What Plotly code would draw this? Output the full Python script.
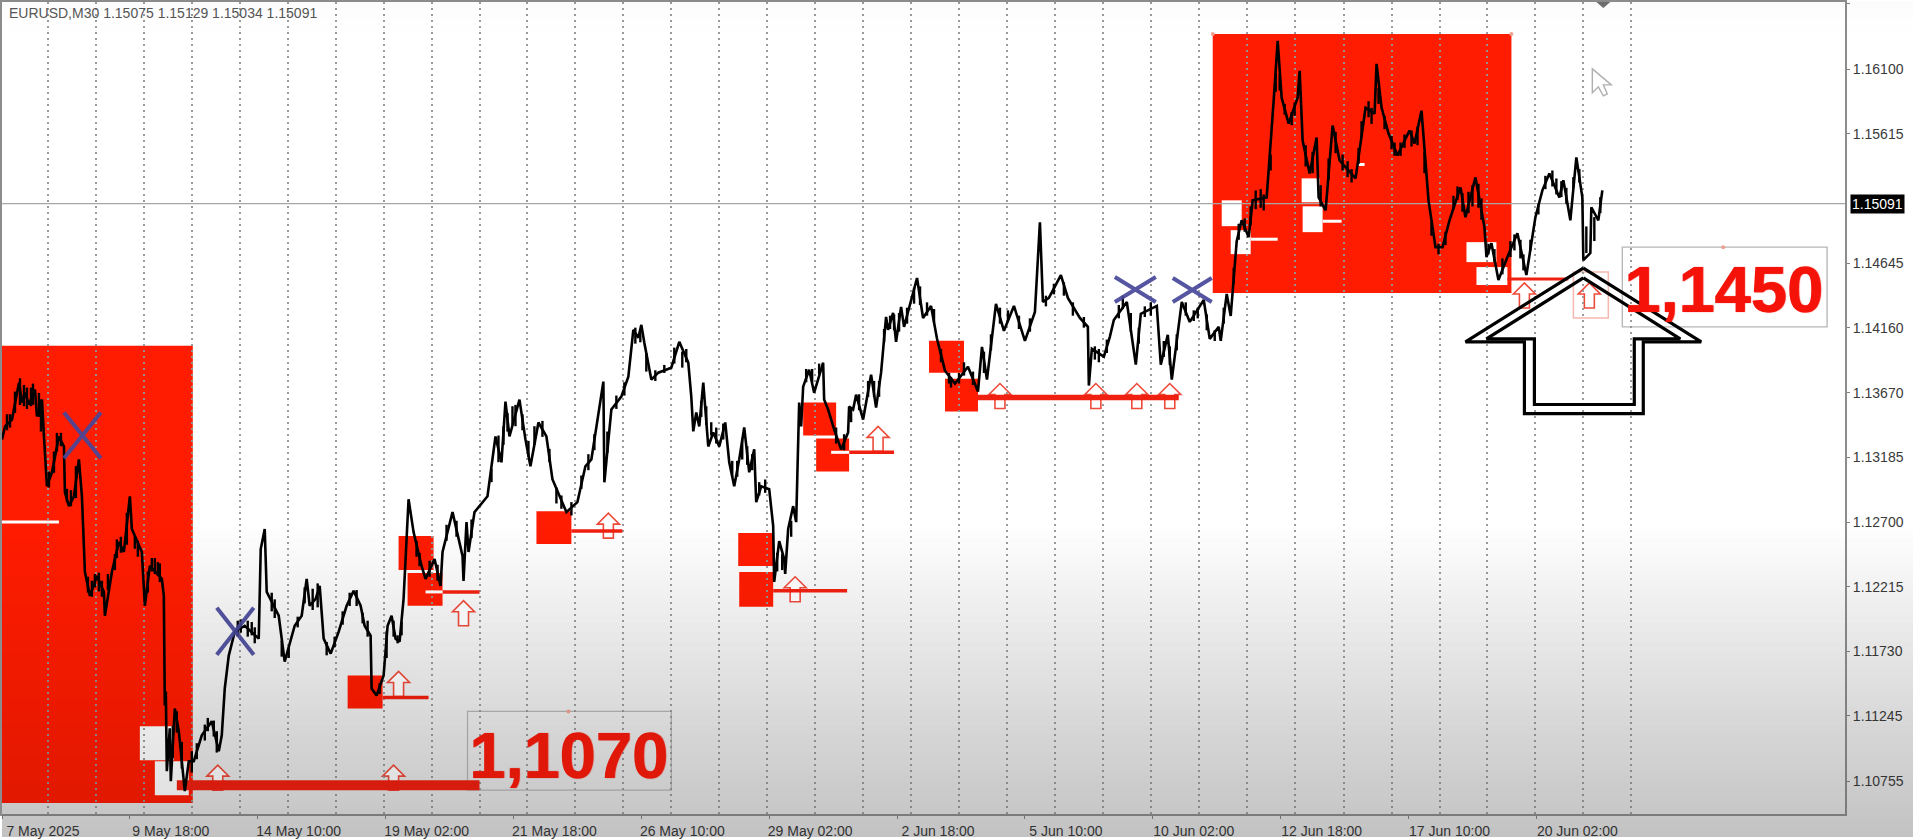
import plotly.graph_objects as go

# ---------- data ----------
price_bars = [0,3,10,17,20,23,27,33,35,40,42,45,50,57,62,63,67,72,77,80,83,88,95,102,103,110,117,122,128,130,140,143,148,160,162,163,164,165,168,169,173,177,183,187,192,200,210,217,220,223,227,233,243,257,259,263,265,277,283,293,300,305,308,314,318,322,329,337,345,352,359,363,369,370,375,382,386,390,394,398,402,407,412,420,424,433,439,441,451,461,462,465,467,473,486,494,500,504,508,518,524,529,537,545,551,565,576,584,590,596,602,603,610,620,627,632,637,640,643,650,657,670,678,687,690,692,695,698,702,707,712,718,724,728,733,738,743,748,753,755,760,768,772,773,778,783,784,787,792,795,798,800,802,808,813,822,823,827,833,840,847,848,852,855,862,870,875,880,885,887,892,895,900,903,910,916,922,930,936,944,954,967,977,981,986,995,1003,1013,1024,1034,1039,1042,1048,1060,1067,1079,1087,1088,1091,1103,1109,1113,1126,1135,1140,1156,1160,1167,1171,1181,1189,1203,1209,1218,1220,1226,1230,1236,1241,1248,1252,1266,1273,1277,1281,1288,1297,1299,1302,1309,1316,1318,1325,1332,1339,1355,1365,1374,1376,1381,1388,1397,1409,1414,1421,1428,1435,1442,1449,1460,1465,1475,1484,1486,1491,1498,1507,1517,1526,1535,1542,1549,1559,1563,1570,1576,1582,1583,1590,1591,1598,1602]
price_values = [1.13321,1.13418,1.13470,1.13747,1.13598,1.13672,1.13583,1.13695,1.13493,1.13620,1.13343,1.12969,1.13074,1.13343,1.13268,1.12924,1.12820,1.12894,1.13171,1.12894,1.12326,1.12146,1.12296,1.12176,1.11997,1.12326,1.12550,1.12476,1.12894,1.12648,1.12476,1.12072,1.12371,1.12274,1.12146,1.11324,1.11428,1.10830,1.11152,1.10755,1.11301,1.11129,1.10680,1.10905,1.10905,1.11099,1.11204,1.10980,1.11099,1.11451,1.11698,1.11877,1.11922,1.11825,1.12498,1.12648,1.12176,1.11997,1.11653,1.11922,1.11997,1.12274,1.12072,1.12124,1.12221,1.11825,1.11713,1.11877,1.12072,1.12184,1.12072,1.11922,1.11847,1.11451,1.11398,1.11548,1.11922,1.11997,1.11825,1.11802,1.12124,1.12872,1.12625,1.12371,1.12274,1.12423,1.12221,1.12476,1.12775,1.12446,1.12259,1.12700,1.12476,1.12775,1.12894,1.13343,1.13149,1.13605,1.13343,1.13620,1.13321,1.13119,1.13448,1.13343,1.13022,1.12775,1.12850,1.13119,1.13171,1.13448,1.13755,1.12999,1.13545,1.13642,1.13792,1.14144,1.14084,1.14181,1.14046,1.13770,1.13822,1.13859,1.14054,1.13897,1.13642,1.13381,1.13523,1.13418,1.13747,1.13268,1.13373,1.13268,1.13448,1.13149,1.12969,1.13171,1.13411,1.13074,1.13246,1.12850,1.12969,1.12947,1.12670,1.12251,1.12558,1.12423,1.12311,1.12648,1.12820,1.12700,1.13598,1.13418,1.13717,1.13844,1.13672,1.13897,1.13620,1.13545,1.13396,1.13246,1.13373,1.13568,1.13545,1.13657,1.13470,1.13807,1.13560,1.13822,1.14241,1.14144,1.14271,1.14054,1.14316,1.14166,1.14368,1.14533,1.14233,1.14323,1.14076,1.13837,1.13740,1.13867,1.13680,1.14016,1.13770,1.14338,1.14136,1.14323,1.14061,1.14278,1.14951,1.14353,1.14383,1.14555,1.14383,1.14233,1.14166,1.13725,1.14001,1.13942,1.14091,1.14218,1.14353,1.13882,1.14263,1.14323,1.13882,1.14106,1.13770,1.14353,1.14203,1.14368,1.14076,1.14166,1.14061,1.14413,1.14248,1.14809,1.14966,1.14839,1.15116,1.15138,1.15864,1.16313,1.15886,1.15692,1.15886,1.16088,1.15565,1.15318,1.15587,1.15138,1.15041,1.15677,1.15415,1.15281,1.15812,1.15767,1.16141,1.15812,1.15617,1.15453,1.15640,1.15542,1.15789,1.15116,1.14764,1.14764,1.14966,1.15213,1.14989,1.15288,1.14914,1.14690,1.14794,1.14518,1.14690,1.14869,1.14555,1.14989,1.15191,1.15318,1.15138,1.15266,1.14966,1.15438,1.15138,1.14667,1.14720,1.15064,1.14966,1.15191]

wick_bars = [5,8,13,18,22,25,29,31,37,39,47,52,55,59,65,69,74,86,90,93,97,100,106,113,115,119,125,133,136,146,150,153,156,158,171,175,180,190,195,203,206,212,215,236,239,246,250,253,270,273,280,287,296,303,311,316,325,333,341,348,355,361,366,378,385,392,396,400,415,418,428,436,445,455,470,490,497,502,506,511,514,521,527,533,541,548,555,560,570,580,587,593,606,615,623,634,639,645,654,663,673,681,685,700,705,710,715,722,731,736,741,746,751,758,764,776,781,790,805,811,818,835,843,850,858,867,873,878,883,889,893,898,906,913,919,926,933,940,948,950,958,963,972,983,990,999,1007,1018,1029,1045,1053,1063,1072,1083,1094,1098,1106,1118,1122,1130,1138,1144,1150,1163,1169,1176,1185,1193,1197,1206,1214,1223,1233,1238,1244,1250,1255,1260,1263,1270,1275,1279,1284,1291,1294,1305,1312,1320,1328,1335,1342,1347,1351,1358,1361,1368,1371,1378,1384,1391,1394,1400,1404,1411,1417,1424,1431,1438,1445,1453,1457,1462,1468,1472,1478,1481,1488,1494,1502,1510,1514,1520,1523,1530,1538,1545,1552,1556,1561,1566,1573,1579,1586,1594,1600]
wick_mids = [1.1345,1.1346,1.1360,1.1368,1.1365,1.1363,1.1364,1.1366,1.1358,1.1350,1.1302,1.1315,1.1330,1.1332,1.1290,1.1288,1.1300,1.1223,1.1220,1.1226,1.1225,1.1220,1.1225,1.1240,1.1250,1.1253,1.1265,1.1255,1.1250,1.1225,1.1238,1.1237,1.1235,1.1232,1.1105,1.1120,1.1095,1.1090,1.1098,1.1112,1.1118,1.1115,1.1105,1.1190,1.1192,1.1190,1.1190,1.1185,1.1210,1.1205,1.1175,1.1172,1.1195,1.1215,1.1212,1.1215,1.1175,1.1180,1.1198,1.1212,1.1213,1.1198,1.1190,1.1145,1.1178,1.1190,1.1182,1.1190,1.1250,1.1242,1.1235,1.1232,1.1262,1.1265,1.1265,1.1305,1.1325,1.1335,1.1345,1.1350,1.1350,1.1345,1.1325,1.1335,1.1340,1.1320,1.1290,1.1285,1.1280,1.1300,1.1315,1.1330,1.1330,1.1360,1.1370,1.1410,1.1410,1.1390,1.1380,1.1385,1.1395,1.1392,1.1395,1.1355,1.1350,1.1340,1.1335,1.1338,1.1310,1.1310,1.1325,1.1320,1.1315,1.1295,1.1297,1.1240,1.1240,1.1265,1.1380,1.1380,1.1385,1.1335,1.1330,1.1350,1.1360,1.1370,1.1370,1.1370,1.1410,1.1420,1.1420,1.1420,1.1425,1.1440,1.1440,1.1430,1.1425,1.1395,1.1378,1.1375,1.1378,1.1385,1.1378,1.1390,1.1405,1.1425,1.1425,1.1420,1.1418,1.1436,1.1445,1.1445,1.1430,1.1420,1.1397,1.1395,1.1402,1.1428,1.1435,1.1420,1.1410,1.1428,1.1430,1.1400,1.1395,1.1405,1.1430,1.1425,1.1427,1.1420,1.1410,1.1425,1.1455,1.1488,1.1493,1.1500,1.1512,1.1513,1.1510,1.1540,1.1600,1.1600,1.1580,1.1573,1.1580,1.1545,1.1540,1.1515,1.1535,1.1555,1.1540,1.1535,1.1530,1.1545,1.1565,1.1580,1.1575,1.1590,1.1570,1.1555,1.1550,1.1550,1.1556,1.1558,1.1560,1.1540,1.1490,1.1475,1.1483,1.1510,1.1517,1.1510,1.1510,1.1515,1.1515,1.1505,1.1475,1.1470,1.1462,1.1475,1.1480,1.1475,1.1465,1.1478,1.1505,1.1525,1.1528,1.1522,1.1520,1.1515,1.1525,1.1530,1.1482,1.1490,1.1508]
wick_half_spans = [.0006,.0005,.0008,.0010,.0008,.0008,.0007,.0008,.0009,.0012,.0006,.0008,.0007,.0005,.0005,.0006,.0012,.0006,.0006,.0005,.0007,.0006,.0006,.0006,.0007,.0006,.0012,.0005,.0006,.0008,.0005,.0006,.0005,.0007,.0012,.0008,.0010,.0008,.0006,.0006,.0005,.0006,.0008,.0006,.0005,.0006,.0005,.0006,.0007,.0007,.0006,.0004,.0004,.0006,.0008,.0009,.0005,.0004,.0005,.0005,.0006,.0004,.0006,.0004,.0010,.0006,.0003,.0005,.0006,.0005,.0006,.0006,.0006,.0006,.0007,.0005,.0010,.0007,.0007,.0007,.0008,.0006,.0006,.0007,.0006,.0005,.0006,.0005,.0005,.0005,.0006,.0006,.0008,.0005,.0005,.0006,.0005,.0007,.0004,.0003,.0006,.0006,.0005,.0006,.0007,.0005,.0006,.0006,.0006,.0006,.0008,.0007,.0006,.0005,.0005,.0007,.0006,.0006,.0005,.0005,.0004,.0006,.0006,.0005,.0006,.0006,.0006,.0006,.0005,.0005,.0006,.0007,.0006,.0006,.0007,.0005,.0005,.0005,.0004,.0004,.0004,.0005,.0005,.0008,.0006,.0006,.0004,.0005,.0005,.0004,.0004,.0005,.0005,.0004,.0005,.0005,.0005,.0005,.0005,.0007,.0006,.0004,.0005,.0006,.0007,.0006,.0005,.0004,.0004,.0006,.0004,.0006,.0006,.0006,.0005,.0007,.0007,.0007,.0006,.0006,.0007,.0006,.0004,.0005,.0005,.0008,.0008,.0008,.0008,.0008,.0006,.0006,.0005,.0006,.0006,.0006,.0006,.0006,.0005,.0005,.0005,.0005,.0005,.0006,.0007,.0008,.0005,.0004,.0005,.0005,.0005,.0007,.0008,.0008,.0009,.0008,.0004,.0005,.0006,.0006,.0006,.0007,.0006,.0004,.0004,.0005,.0006,.0006,.0006,.0006,.0004,.0005,.0010,.0009,.0006]

time_tick_bars = [0,128,256,384,512,640,768,896,1024,1152,1280,1408,1536]
time_tick_labels = ["7 May 2025","9 May 18:00","14 May 10:00","19 May 02:00","21 May 18:00","26 May 10:00","29 May 02:00","2 Jun 18:00","5 Jun 10:00","10 Jun 02:00","12 Jun 18:00","17 Jun 10:00","20 Jun 02:00"]
grid_bars = [46,94,142,190,238,286,334,382,430,478,526,574,622,670,718,766,814,862,910,958,1006,1054,1102,1150,1198,1246,1294,1343,1391,1439,1487,1535,1583,1631]
price_ticks = [1.16590,1.16100,1.15615,1.14645,1.14160,1.13670,1.13185,1.12700,1.12215,1.11730,1.11245,1.10755]
last_price = 1.15091

zone_bar_start = [0,1212]
zone_bar_end = [191,1511]
zone_top = [1.14024,1.16365]
zone_bottom = [1.10591,1.14420]

block_bar_start = [346,397,406,535,737,738,802,815,928,944]
block_bar_end = [381,432,441,570,772,772,835,848,963,977]
block_top = [1.11548,1.12595,1.12318,1.12782,1.12618,1.12326,1.13598,1.13328,1.14061,1.13777]
block_bottom = [1.11301,1.12341,1.12072,1.12535,1.12371,1.12064,1.13351,1.13081,1.13822,1.13530]

mitigated_bar_start = [138,153,1221,1230,1301,1302,1466,1476]
mitigated_bar_end = [172,187,1241,1250,1319,1322,1496,1507]
mitigated_top = [1.11167,1.10905,1.15116,1.14892,1.15281,1.15071,1.14802,1.14615]
mitigated_bottom = [1.10912,1.10650,1.14922,1.14712,1.15101,1.14877,1.14652,1.14480]

red_level_start = [175,381,441,570,772,848,977,1507]
red_level_end = [478,427,478,621,846,893,1178,1568]
red_level_price = [1.10725,1.11383,1.12176,1.12633,1.12184,1.13224,1.13635,1.14525]
red_level_width = [10,3.5,3.5,3.5,3.5,3.5,5.5,3]

white_level_start = [0,424,830,1250,1322,1358]
white_level_end = [57,441,848,1277,1341,1364]
white_level_price = [1.12700,1.12176,1.13224,1.14824,1.14959,1.15385]

up_arrow_bars = [216,392,397,462,607,794,877,999,1095,1136,1169,1524,1589]
up_arrow_prices = [1.10688,1.10688,1.11391,1.11922,1.12580,1.12102,1.13231,1.13553,1.13553,1.13553,1.13553,1.14308,1.14308]

cross_bar_start = [62,215,1114,1172]
cross_bar_end = [99,252,1155,1211]
cross_top = [1.13523,1.12057,1.14540,1.14533]
cross_bottom = [1.13179,1.11705,1.14353,1.14353]

label_texts = ["1,1070","1,1450"]
label_bars = [567,1723]
label_prices = [1.10950,1.14450]
label_box_start = [466,1622]
label_box_end = [670,1827]
label_box_top = [1.11279,1.14764]
label_box_bottom = [1.10688,1.14166]

handle_bars = [1212,1511,567,1723]
handle_prices = [1.16365,1.16365,1.11279,1.14764]

big_arrow_outer_bars = [1583,1701,1643,1643,1524,1524,1465,1583]
big_arrow_outer_prices = [1.14607,1.14054,1.14054,1.13515,1.13515,1.14054,1.14054,1.14607]
big_arrow_inner_bars = [1583,1680,1634,1634,1534,1534,1486,1583]
big_arrow_inner_prices = [1.14533,1.14076,1.14076,1.13583,1.13583,1.14076,1.14076,1.14533]

header_text = "EURUSD,M30 1.15075 1.15129 1.15034 1.15091"

# ---------- layout constants ----------
W, H = 1913, 839
PLOT_RIGHT, PLOT_BOTTOM, PLOT_TOP = 1845, 816, 1
RED = "#ff1c00"
shapes = []

# background part of the frame's vertical shading: under the red zones
SHADE_TOP = 530
BACK_LEVELS, FRONT_LEVELS = 30, 33
for i in range(BACK_LEVELS):
    y0 = SHADE_TOP + round(i * (H - SHADE_TOP) / BACK_LEVELS)
    y1 = SHADE_TOP + round((i + 1) * (H - SHADE_TOP) / BACK_LEVELS)
    shapes.append(dict(type="rect", xref="paper", yref="paper", x0=0, x1=1,
                       y0=1 - y1 / H, y1=1 - y0 / H, fillcolor="#000000",
                       opacity=(i + 1) / 255, line=dict(width=0), layer="below"))

for x0, x1, t, b in zip(zone_bar_start, zone_bar_end, zone_top, zone_bottom):
    shapes.append(dict(type="rect", xref="x", yref="y", x0=x0, x1=x1, y0=b, y1=t,
                       fillcolor=RED, line=dict(width=0), layer="below"))
for x0, x1, t, b in zip(block_bar_start, block_bar_end, block_top, block_bottom):
    shapes.append(dict(type="rect", xref="x", yref="y", x0=x0, x1=x1, y0=b, y1=t,
                       fillcolor=RED, line=dict(width=0), layer="below"))
for x0, x1, t, b in zip(mitigated_bar_start, mitigated_bar_end, mitigated_top, mitigated_bottom):
    shapes.append(dict(type="rect", xref="x", yref="y", x0=x0, x1=x1, y0=b, y1=t,
                       fillcolor="#ffffff", line=dict(width=0), layer="below"))

ARROW = "M-5,0 L5,0 L5,14 L11,14 L0,25 L-11,14 L-5,14 Z"
for bx, p in zip(up_arrow_bars, up_arrow_prices):
    shapes.append(dict(type="path", xref="x", yref="y", xsizemode="pixel", ysizemode="pixel",
                       xanchor=bx, yanchor=p, path=ARROW, fillcolor="rgba(255,255,255,0.85)",
                       line=dict(color="#ee4a3a", width=1.6), layer="below"))

shapes.append(dict(type="rect", xref="x", yref="y", x0=1573, x1=1608, y0=1.14233, y1=1.14577,
                   line=dict(color="#f4b8b0", width=1.5), layer="below"))

for x0, x1, t, b in zip(label_box_start, label_box_end, label_box_top, label_box_bottom):
    shapes.append(dict(type="rect", xref="x", yref="y", x0=x0, x1=x1, y0=b, y1=t,
                       line=dict(color="#b5b5b5", width=1.3), layer="below"))

shapes.append(dict(type="path", xref="x", yref="y", xsizemode="pixel", ysizemode="pixel",
                   xanchor=1592, yanchor=1.16103,
                   path="M0,0 L0,-24 L6,-18 L11,-27 L15,-25 L11,-16 L19,-16 Z",
                   fillcolor="#ffffff", line=dict(color="#b0b0b0", width=1.4), layer="above"))
shapes.append(dict(type="path", xref="x", yref="y", xsizemode="pixel", ysizemode="pixel",
                   xanchor=1603, yanchor=1.16605, path="M-7,0 L7,0 L0,-6 Z",
                   fillcolor="#707070", line=dict(width=0), layer="above"))

# front part of the shading: over everything
for i in range(FRONT_LEVELS):
    y0 = SHADE_TOP + round(i * (H - SHADE_TOP) / FRONT_LEVELS)
    y1 = SHADE_TOP + round((i + 1) * (H - SHADE_TOP) / FRONT_LEVELS)
    shapes.append(dict(type="rect", xref="paper", yref="paper", x0=0, x1=1,
                       y0=1 - y1 / H, y1=1 - y0 / H, fillcolor="#000000",
                       opacity=(i + 1) / 255, line=dict(width=0), layer="above"))
for i, (y0, y1) in enumerate([(0, 8), (8, 18), (18, 30)]):
    shapes.append(dict(type="rect", xref="paper", yref="paper", x0=0, x1=1,
                       y0=1 - y1 / H, y1=1 - y0 / H, fillcolor="#000000",
                       opacity=(3 - i) / 255, line=dict(width=0), layer="above"))

fig = go.Figure()

for x0, x1, p, w in zip(red_level_start, red_level_end, red_level_price, red_level_width):
    fig.add_trace(go.Scatter(x=[x0, x1], y=[p, p], mode="lines",
                             line=dict(color="#f02010", width=w), hoverinfo="skip"))
for x0, x1, p in zip(white_level_start, white_level_end, white_level_price):
    fig.add_trace(go.Scatter(x=[x0, x1], y=[p, p], mode="lines",
                             line=dict(color="#ffffff", width=3), hoverinfo="skip"))

fig.add_trace(go.Scatter(x=[0, PLOT_RIGHT], y=[last_price, last_price], mode="lines",
                         line=dict(color="#a8a8a8", width=1.4), hoverinfo="skip"))

fig.add_trace(go.Scatter(x=handle_bars, y=handle_prices, mode="markers",
                         marker=dict(size=4, color="#f0a090", line=dict(width=0)), hoverinfo="skip"))

fig.add_trace(go.Scatter(x=price_bars, y=price_values, mode="lines",
                         line=dict(color="#000000", width=2.6), name="EURUSD,M30"))

wick_x, wick_y = [], []
for b, m, s in zip(wick_bars, wick_mids, wick_half_spans):
    wick_x += [b, b, None]
    wick_y += [m - s, m + s, None]
fig.add_trace(go.Scatter(x=wick_x, y=wick_y, mode="lines",
                         line=dict(color="#000000", width=2.4), hoverinfo="skip"))

for x0, x1, t, b in zip(cross_bar_start, cross_bar_end, cross_top, cross_bottom):
    fig.add_trace(go.Scatter(x=[x0, x1, None, x0, x1], y=[t, b, None, b, t], mode="lines",
                             line=dict(color="#47479a", width=4), opacity=0.92, hoverinfo="skip"))

for bx, py in [(big_arrow_outer_bars, big_arrow_outer_prices), (big_arrow_inner_bars, big_arrow_inner_prices)]:
    fig.add_trace(go.Scatter(x=bx, y=py, mode="lines",
                             line=dict(color="#000000", width=3.2), hoverinfo="skip"))

annotations = []
for t, bx, p, c in zip(label_texts, label_bars, label_prices, ["#e0180a", "#f51208"]):
    annotations.append(dict(text=f"<b>{t}</b>", x=bx, y=p, xref="x", yref="y", showarrow=False,
                            font=dict(family="Liberation Sans", size=65, color=c,
                                      shadow=f"1px 0 1px {c}"),
                            xanchor="center", yanchor="middle"))
annotations.append(dict(text=header_text, x=5 / W, y=1 - 12 / H, xref="paper", yref="paper",
                        xanchor="left", yanchor="middle", showarrow=False,
                        font=dict(family="Liberation Sans", size=14, color="#555555")))
annotations.append(dict(text=f"{last_price:.5f}", x=1877 / W, y=last_price, xref="paper", yref="y",
                        xanchor="center", yanchor="middle", showarrow=False, bgcolor="#000000",
                        borderpad=1, font=dict(family="Liberation Sans", size=14, color="#ffffff")))

fig.update_layout(
    width=W, height=H, autosize=False, showlegend=False,
    margin=dict(l=0, r=0, t=0, b=0, pad=0),
    paper_bgcolor="#ffffff", plot_bgcolor="rgba(0,0,0,0)",
    font=dict(family="Liberation Sans", size=14, color="#3a3a3a"),
    shapes=shapes, annotations=annotations,
    xaxis=dict(domain=[0, PLOT_RIGHT / W], range=[0, PLOT_RIGHT], tickmode="array",
               tickvals=time_tick_bars, ticktext=time_tick_labels, tickangle=0,
               ticks="outside", ticklen=3, tickcolor="#808080", ticklabelshift=41,
               showgrid=False, zeroline=False, showline=True, linecolor="#8c8c8c", linewidth=2,
               mirror=True, tickfont=dict(size=14, color="#3a3a3a"),
               minor=dict(tickmode="array", tickvals=grid_bars, showgrid=True, griddash="2px,4px",
                          gridcolor="rgba(150,150,150,0.95)", gridwidth=1.6, ticks="")),
    yaxis=dict(domain=[1 - PLOT_BOTTOM / H, 1 - PLOT_TOP / H], range=[1.10508, 1.16605],
               side="right", tickmode="array", tickvals=price_ticks,
               ticktext=[f"{v:.5f}" for v in price_ticks], ticks="outside", ticklen=3,
               tickcolor="#808080", showgrid=False, zeroline=False, showline=True,
               linecolor="#8c8c8c", linewidth=2, mirror=True,
               tickfont=dict(size=14, color="#3a3a3a")),
)

fig.write_html("out.html", config=dict(displayModeBar=False),
               post_script="document.body.style.margin='0';document.body.style.overflow='hidden';")
